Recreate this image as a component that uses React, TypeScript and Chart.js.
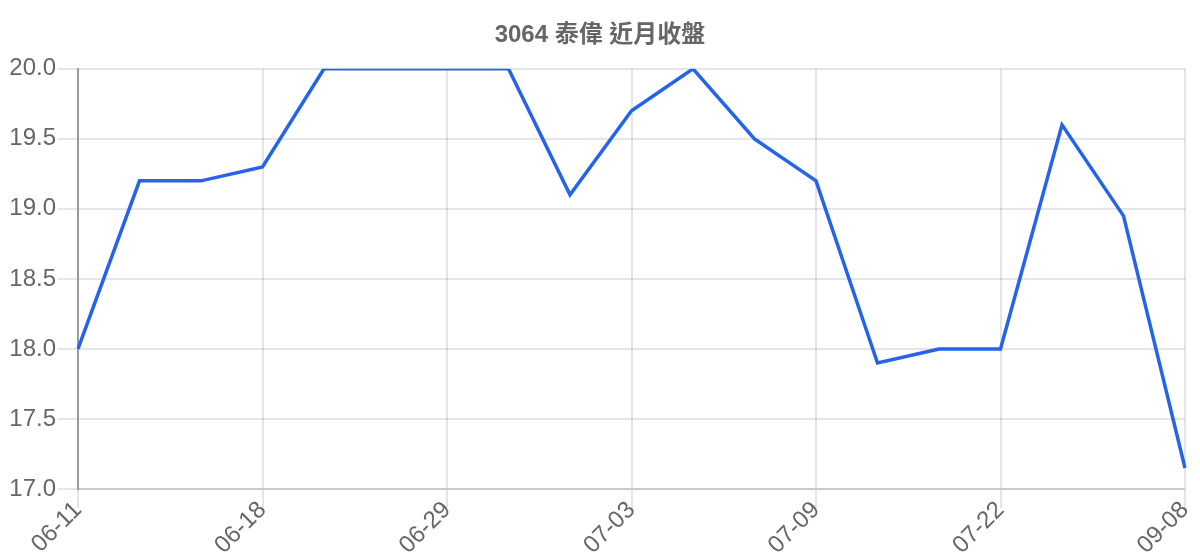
import { useEffect, useRef } from 'react';
import Chart from 'chart.js/auto';

const chartTitle = '3064 泰偉 近月收盤';

// trading dates (only every 3rd one is shown on the axis)
const dates = [
    '06-11', '06-13', '06-16', '06-18', '06-20', '06-25', '06-29',
    '06-30', '07-01', '07-03', '07-04', '07-07', '07-09', '07-14',
    '07-17', '07-22', '07-28', '08-15', '09-08'
];

const closePrices = [
    18.0, 19.2, 19.2, 19.3, 20.0, 20.0, 20.0,
    20.0, 19.1, 19.7, 20.0, 19.5, 19.2, 17.9,
    18.0, 18.0, 19.6, 18.95, 17.15
];

const yMin = 17.0;
const yMax = 20.0;
const yStep = 0.5;

const FONT = '"Liberation Sans", Arial, "Noto Sans CJK TC", sans-serif';

export default function App() {
    const chartRef = useRef<HTMLCanvasElement>(null);
    const chartInstance = useRef<Chart | null>(null);

    useEffect(() => {
        document.body.style.margin = '0';
        if (!chartRef.current) return;

        if (chartInstance.current) {
            chartInstance.current.destroy();
        }

        const ctx = chartRef.current.getContext('2d');
        if (!ctx) return;

        chartInstance.current = new Chart(ctx, {
            type: 'line',
            data: {
                labels: dates,
                datasets: [
                    {
                        label: '收盤',
                        data: closePrices,
                        borderColor: '#2563eb',
                        backgroundColor: '#2563eb',
                        borderWidth: 3.5,
                        pointRadius: 0,
                        tension: 0,
                        fill: false,
                    }
                ]
            },
            options: {
                responsive: true,
                maintainAspectRatio: false,
                animation: false,
                plugins: {
                    legend: { display: false },
                    title: {
                        display: true,
                        text: chartTitle,
                        color: '#666',
                        font: { family: FONT, size: 24, weight: 'bold' },
                        padding: { top: 21, bottom: 19 }
                    },
                    tooltip: { enabled: false }
                },
                scales: {
                    x: {
                        grid: {
                            color: 'rgba(0, 0, 0, 0.1)',
                            lineWidth: 2,
                            tickLength: 19
                        },
                        border: { color: 'rgba(0, 0, 0, 0.12)', width: 2 },
                        ticks: {
                            color: '#666',
                            font: { family: FONT, size: 24 },
                            maxRotation: 45,
                            minRotation: 45,
                            autoSkip: true,
                            maxTicksLimit: 7,
                            padding: -12
                        },
                        afterFit: (scale: any) => {
                            scale.height = 71;
                            scale.paddingRight = 15;
                        }
                    },
                    y: {
                        min: yMin,
                        max: yMax,
                        grid: {
                            color: 'rgba(0, 0, 0, 0.1)',
                            lineWidth: 2,
                            tickLength: 20
                        },
                        border: { color: 'rgba(0, 0, 0, 0.33)', width: 2 },
                        ticks: {
                            stepSize: yStep,
                            color: '#666',
                            font: { family: FONT, size: 24 },
                            padding: 2,
                            callback: (v) => Number(v).toFixed(1)
                        },
                        afterFit: (scale: any) => {
                            scale.width = 78;
                        }
                    }
                }
            }
        });

        return () => {
            if (chartInstance.current) {
                chartInstance.current.destroy();
                chartInstance.current = null;
            }
        };
    }, []);

    return (
        <div style={{ width: 1200, height: 560, position: 'relative' }}>
            <canvas ref={chartRef} />
        </div>
    );
}
